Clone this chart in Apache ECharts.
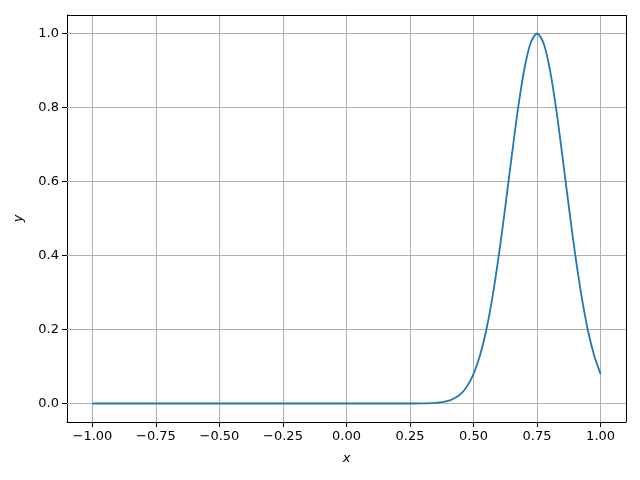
<!DOCTYPE html>
<html><head><meta charset="utf-8">
<script src="https://cdn.jsdelivr.net/npm/echarts@6/dist/echarts.min.js"></script>
<style>html,body{margin:0;padding:0;background:#fff}#c{width:640px;height:480px}</style>
</head><body><div id="c"></div>
<script>
const xValues = [-1.0, -0.75, -0.5, -0.25, 0.0, 0.1, 0.2, 0.25, 0.3, 0.35, 0.4, 0.425, 0.45, 0.475, 0.5, 0.525, 0.55, 0.575, 0.6, 0.625, 0.65, 0.675, 0.7, 0.725, 0.75, 0.775, 0.8, 0.825, 0.85, 0.875, 0.9, 0.925, 0.95, 0.975, 1.0];
const yValues = [0, 0, 0, 0, 0, 0, 0, 0, 0.0003, 0.0015, 0.007, 0.014, 0.026, 0.047, 0.080, 0.129, 0.198, 0.290, 0.403, 0.532, 0.667, 0.797, 0.904, 0.975, 1.0, 0.975, 0.904, 0.797, 0.667, 0.532, 0.403, 0.290, 0.198, 0.129, 0.080];
const xTicks = [-1.0, -0.75, -0.5, -0.25, 0.0, 0.25, 0.5, 0.75, 1.0];
const yTicks = [0.0, 0.2, 0.4, 0.6, 0.8, 1.0];
const xRange = [-1.1, 1.1];
const yRange = [-0.05, 1.05];

const chart = echarts.init(document.getElementById('c'), null, {renderer: 'canvas'});
const font = 'DejaVu Sans';
chart.setOption({
  animation: false,
  grid: {left: 67, right: 14, top: 15, bottom: 58, containLabel: false, show: false},
  xAxis: {
    type: 'value', min: xRange[0], max: xRange[1],
    name: 'x', nameLocation: 'middle', nameGap: 30,
    nameTextStyle: {fontFamily: font, fontSize: 13, fontStyle: 'italic', color: '#000'},
    axisLine: {show: true, onZero: false, lineStyle: {color: '#000', width: 1}},
    axisTick: {show: true, customValues: xTicks, length: 5, lineStyle: {color: '#000'}},
    axisLabel: {customValues: xTicks, fontFamily: font, fontSize: 13, color: '#000', margin: 8,
      formatter: v => (v < 0 ? '\u2212' : '') + Math.abs(v).toFixed(2)},
    splitLine: {show: false}
  },
  yAxis: {
    type: 'value', min: yRange[0], max: yRange[1],
    name: 'y', nameLocation: 'middle', nameGap: 42, nameRotate: 90,
    nameTextStyle: {fontFamily: font, fontSize: 13, fontStyle: 'italic', color: '#000'},
    axisLine: {show: true, onZero: false, lineStyle: {color: '#000', width: 1}},
    axisTick: {show: true, customValues: yTicks, length: 5, lineStyle: {color: '#000'}},
    axisLabel: {customValues: yTicks, fontFamily: font, fontSize: 13, color: '#000', margin: 8,
      formatter: v => v.toFixed(1)},
    splitLine: {show: false}
  },
  series: [
    {
      type: 'line', data: [], z: 1, zlevel: 0,
      markLine: {
        silent: true, symbol: 'none', label: {show: false}, z: 1,
        lineStyle: {color: '#b0b0b0', width: 1, type: 'solid'},
        data: xTicks.map(v => ({xAxis: v})).concat(yTicks.map(v => ({yAxis: v})))
      }
    },
    {
      type: 'line', data: xValues.map((x, i) => [x, yValues[i]]), z: 5,
      smooth: 0.3, showSymbol: false, lineStyle: {color: '#1f77b4', width: 1.8}
    },
    {
      type: 'line', data: [], z: 6, markLine: {
        silent: true, symbol: 'none', label: {show: false},
        lineStyle: {color: '#000', width: 1, type: 'solid'},
        data: [{xAxis: xRange[1]}, {yAxis: yRange[1]}]
      }
    }
  ]
});
</script></body></html>
